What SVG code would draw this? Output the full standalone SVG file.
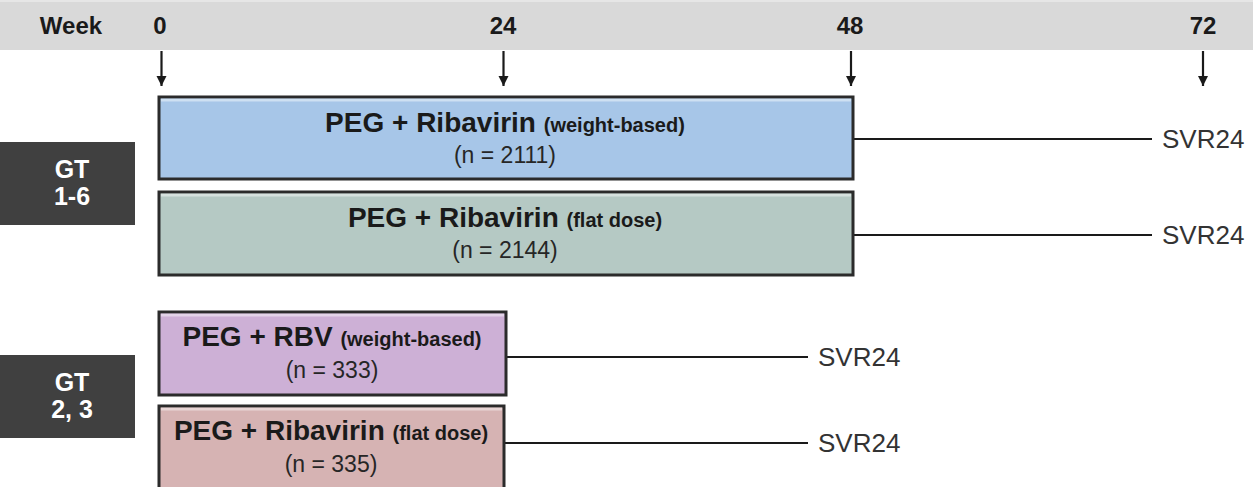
<svg xmlns="http://www.w3.org/2000/svg" width="1253" height="487" viewBox="0 0 1253 487">
<style>
text{font-family:"Liberation Sans",Arial,sans-serif;fill:#1a1a1a}
.hdr{font-size:24px;font-weight:bold;text-anchor:middle}
.ttl{font-size:28px;font-weight:bold;text-anchor:middle}
.sm{font-size:20px}
.n{font-size:23px;text-anchor:middle;fill:#262626}
.svr{font-size:26px;fill:#333}
.gt{font-size:25px;font-weight:bold;fill:#fff;text-anchor:middle}
.box{stroke:#2b2b2b;stroke-width:3}
.gtbox{fill:#404040}
.conn{stroke:#1a1a1a;stroke-width:2.2;fill:none}
.hi{stroke:#fff;stroke-opacity:0.45;stroke-width:3}
</style>
<defs>
<marker id="ah" viewBox="0 0 10 10" refX="10" refY="5" markerWidth="10" markerHeight="12" markerUnits="userSpaceOnUse" orient="auto">
<path d="M0,0 L10,5 L0,10 Z" fill="#1a1a1a"/>
</marker>
</defs>
<rect x="0" y="0" width="1253" height="50" fill="#d9d9d9"/>
<rect x="0" y="0" width="1253" height="2" fill="#e6e6e6"/>
<g id="header">
<text x="71" y="34" class="hdr">Week</text>
<text x="160" y="34" class="hdr">0</text>
<text x="503" y="34" class="hdr">24</text>
<text x="850" y="34" class="hdr">48</text>
<text x="1203" y="34" class="hdr">72</text>
</g>
<g id="connectors">
<line x1="161.5" y1="51" x2="161.5" y2="86" class="conn" marker-end="url(#ah)"/>
<line x1="503.5" y1="51" x2="503.5" y2="86" class="conn" marker-end="url(#ah)"/>
<line x1="851" y1="51" x2="851" y2="86" class="conn" marker-end="url(#ah)"/>
<line x1="1203" y1="51" x2="1203" y2="86" class="conn" marker-end="url(#ah)"/>
<line x1="853" y1="139" x2="1152" y2="139" class="conn"/>
<line x1="853" y1="235" x2="1152" y2="235" class="conn"/>
<line x1="507" y1="357" x2="808" y2="357" class="conn"/>
<line x1="505" y1="443" x2="808" y2="443" class="conn"/>
</g>
<g id="gt16">
<rect x="0" y="142" width="135" height="83" class="gtbox"/>
<text x="72" y="178" class="gt">GT</text>
<text x="72" y="205" class="gt">1-6</text>
</g>
<g id="gt23">
<rect x="0" y="355" width="135" height="83" class="gtbox"/>
<text x="72" y="391" class="gt">GT</text>
<text x="72" y="418" class="gt">2, 3</text>
</g>
<g id="arm1">
<rect x="159" y="97" width="694" height="82" fill="#a7c6e8" class="box"/>
<line x1="161" y1="100" x2="851" y2="100" class="hi"/>
<text x="505" y="132" class="ttl">PEG + Ribavirin <tspan class="sm">(weight-based)</tspan></text>
<text x="505" y="163" class="n">(n = 2111)</text>
<text x="1162" y="148" class="svr">SVR24</text>
</g>
<g id="arm2">
<rect x="159" y="192" width="694" height="83" fill="#b5c9c4" class="box"/>
<line x1="161" y1="195" x2="851" y2="195" class="hi"/>
<text x="505" y="227" class="ttl">PEG + Ribavirin <tspan class="sm">(flat dose)</tspan></text>
<text x="505" y="258" class="n">(n = 2144)</text>
<text x="1162" y="244" class="svr">SVR24</text>
</g>
<g id="arm3">
<rect x="159" y="312" width="347" height="83" fill="#cdb0d6" class="box"/>
<line x1="161" y1="315" x2="504" y2="315" class="hi"/>
<text x="332" y="346" class="ttl">PEG + RBV <tspan class="sm">(weight-based)</tspan></text>
<text x="332" y="378" class="n">(n = 333)</text>
<text x="818" y="366" class="svr">SVR24</text>
</g>
<g id="arm4">
<rect x="159" y="406" width="345" height="85" fill="#d6b3b3" class="box"/>
<line x1="161" y1="409" x2="502" y2="409" class="hi"/>
<text x="331" y="440" class="ttl">PEG + Ribavirin <tspan class="sm">(flat dose)</tspan></text>
<text x="331" y="472" class="n">(n = 335)</text>
<text x="818" y="452" class="svr">SVR24</text>
</g>
</svg>
